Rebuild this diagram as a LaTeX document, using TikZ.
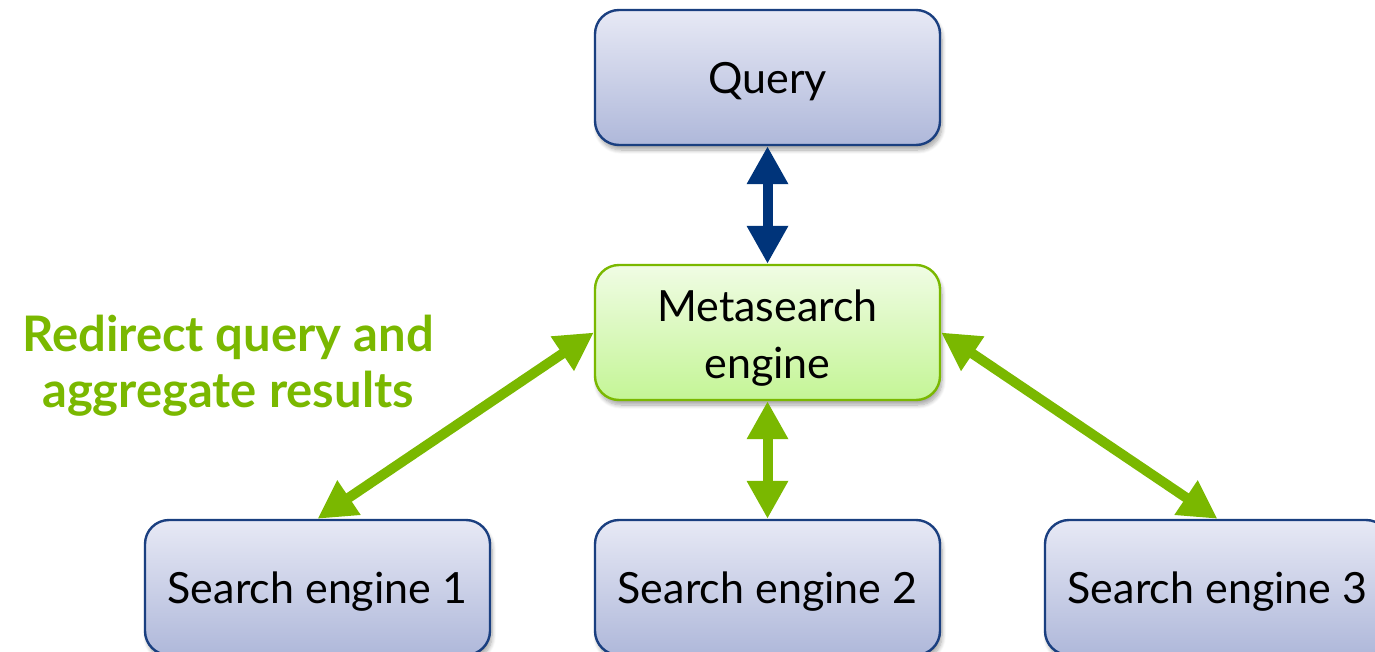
\documentclass[tikz,border=0pt]{standalone}
\usepackage{fontspec}
\setmainfont{Lato}
\usetikzlibrary{arrows.meta,shadows.blur}
\definecolor{navy}{HTML}{00347A}
\definecolor{boxedge}{HTML}{1A3F80}
\definecolor{leaf}{HTML}{7AB800}
\definecolor{bluetop}{HTML}{E7E9F5}
\definecolor{bluebot}{HTML}{AFB8DA}
\definecolor{greentop}{HTML}{F0FCE4}
\definecolor{greenbot}{HTML}{C4F596}
\tikzset{
  card/.style={rounded corners=12pt, minimum width=172.5pt, minimum height=67.5pt,
    line width=1.2pt, align=center, font=\fontsize{21.5}{28.5}\selectfont, inner sep=0pt,
    text depth=0pt,
    blur shadow={shadow xshift=1pt, shadow yshift=-2.5pt, shadow blur steps=8, shadow opacity=35}},
  bluecard/.style={card, draw=boxedge, top color=bluetop, bottom color=bluebot},
  greencard/.style={card, draw=leaf, top color=greentop, bottom color=greenbot},
  link/.style={line width=5pt, {Triangle[length=19pt,width=19.5pt]}-{Triangle[length=19pt,width=19.5pt]}},
}
\begin{document}
\begin{tikzpicture}[x=0.5pt,y=-0.5pt]
  \useasboundingbox (0,0) rectangle (1375,652);
  \node[bluecard]  (query) at (767.5,77.5)  {Query};
  \node[greencard] (meta)  at (767.5,332.5) {\raisebox{-2pt}{Metasearch}\\\raisebox{-2pt}{engine}};
  \node[bluecard]  (se1)   at (317.5,587.5) {Search engine 1};
  \node[bluecard]  (se2)   at (767.5,587.5) {Search engine 2};
  \node[bluecard]  (se3)   at (1217.5,587.5) {Search engine 3};

  \draw[link, navy] (query.south) -- (meta.north);
  \draw[link, leaf] (meta.south) -- (se2.north);
  \draw[link, leaf] (meta.west) -- (se1.north);
  \draw[link, leaf] (meta.east) -- (se3.north);

  \node[text=leaf, font=\bfseries\fontsize{24.5}{28}\selectfont, align=center] (note) at (228,366)
    {Redirect query and\\aggregate results};
\end{tikzpicture}
\end{document}
